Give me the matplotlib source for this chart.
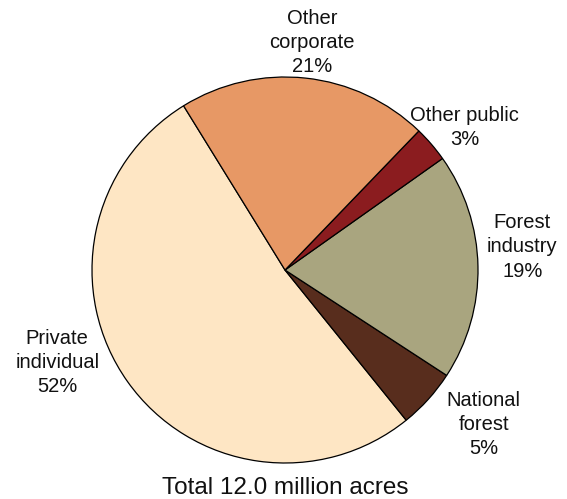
import matplotlib.pyplot as plt

plt.rcParams['font.family'] = ['Liberation Sans', 'DejaVu Sans']

# ownership shares, counter-clockwise from the private individual slice
labels = ['Private\nindividual', 'National\nforest', 'Forest\nindustry', 'Other public', 'Other\ncorporate']
shares = [52, 5, 19, 3, 21]
colors = ['#FEE6C4', '#582D1D', '#A9A57F', '#8B1C1F', '#E79865']
total_acres = 12.0

fig = plt.figure(figsize=(5.67, 4.99), dpi=100)
ax = fig.add_axes([0, 0, 1, 1])

ax.pie(shares, colors=colors, startangle=121.7, counterclock=True,
       radius=1.0, wedgeprops=dict(edgecolor='black', linewidth=0.9))

# label placement around the pie (data units, radius = 1)
label_pos = [(-1.18, -0.48), (1.03, -0.80), (1.23, 0.12), (0.93, 0.74), (0.14, 1.18)]
for lab, val, (x, y) in zip(labels, shares, label_pos):
    ax.text(x, y, f'{lab}\n{val}%', ha='center', va='center', fontsize=14.5,
            linespacing=1.35, color='#111111')

ax.text(0, -1.13, f'Total {total_acres:.1f} million acres', ha='center', va='center',
        fontsize=17.5, color='#111111')

ax.set_xlim(-285 / 193, (567 - 285) / 193)
ax.set_ylim(-(499 - 270) / 193, 270 / 193)
ax.axis('off')

fig.savefig('out.png', dpi=100)
